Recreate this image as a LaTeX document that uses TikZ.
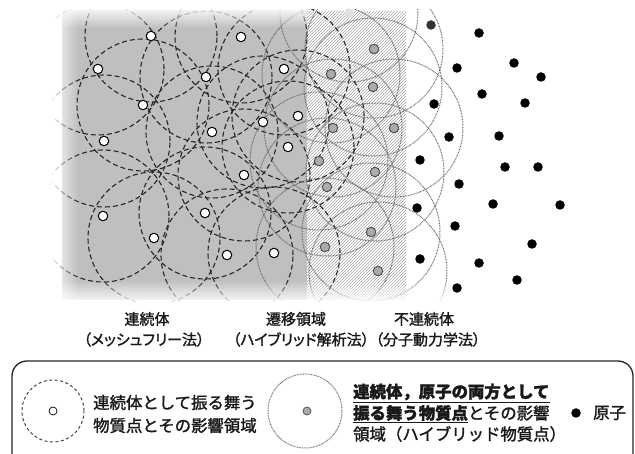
\documentclass[tikz,border=0pt]{standalone}
\usepackage{fontspec}
\setmainfont{Noto Sans CJK JP}
\newfontfamily\jpthick{Noto Sans CJK JP}[FakeBold=1.6]
\newfontfamily\jplab{Noto Sans CJK JP}[FakeBold=1.6, RawFeature=+palt]
\usetikzlibrary{fadings}
\tikzfading[name=fadeL, left color=transparent!0, right color=transparent!100]
\tikzfading[name=fadeT, top color=transparent!0, bottom color=transparent!100]
\tikzfading[name=fadeB, top color=transparent!100, bottom color=transparent!0]
\tikzset{
  wp/.style={circle, draw=black, fill=white, line width=1pt, inner sep=0pt, minimum size=9.5pt},
  hp/.style={circle, draw=black!70, fill=black!33, line width=0.9pt, inner sep=0pt, minimum size=9.5pt},
  ap/.style={circle, fill=black, inner sep=0pt, minimum size=9.5pt},
  dc/.style={draw=black!85, dash pattern=on 5pt off 3pt, line width=1.1pt},
  oc/.style={draw=black!60, dash pattern=on 0.8pt off 0.8pt, line width=1pt},
  hatch/.style={draw=black!35, line width=0.7pt},
  lab/.style={font=\jplab\fontsize{15}{16}\selectfont, text=black!90, inner sep=0pt},
  leg/.style={font=\jpthick\fontsize{16.4}{18}\selectfont, text=black!90, anchor=west, inner sep=0pt},
}
\begin{document}
\begin{tikzpicture}[x=1pt,y=-1pt]
\useasboundingbox (0,0) rectangle (635,454);
% regions
\fill[black!25] (62,10) rectangle (307,300);
\begin{scope}
  \clip (307,12) rectangle (406,300);
  \foreach \i in {7,10,...,406} \draw[hatch] (\i,300) -- ++(300,-300);
\end{scope}
% particle positions
\foreach \n/\x/\y in {w1/151/36,w2/241/37,w3/98/69,w4/206/77,w5/284/69,w6/143/105,w7/298/116,w8/263/122,w9/212/132,w10/104/141,w11/288/147,w12/244/175,w13/103/216,w14/205/213,w15/154/238,w16/227/255,w17/274/253}
  \coordinate (\n) at (\x,\y);
\foreach \n/\x/\y in {h0/349/13,h1/374/49,h2/331/74,h3/373/87,h4/333/128,h5/394/128,h6/319/161,h7/375/172,h8/327/187,h9/371/232,h10/325/247,h11/378/271}
  \coordinate (\n) at (\x,\y);
% influence circles
\begin{scope}
  \clip (52,10) rectangle (475,302);
  \foreach \n in {w1,w2,w3,w4,w5,w6,w7,w8,w9,w10,w11,w12,w13,w14,w15,w16,w17}
    \draw[dc] (\n) circle[radius=66pt];
  \foreach \n in {h0,h1,h2,h3,h4,h5,h6,h7,h8,h9,h10,h11}
    \draw[oc] (\n) circle[radius=69pt];
\end{scope}
% soft edges
\fill[white, path fading=fadeL] (50,8) rectangle (78,304);
\fill[white, path fading=fadeT] (50,6) rectangle (307,28);
\fill[white, path fading=fadeB] (50,280) rectangle (480,304);
% particle markers
\foreach \n in {w1,w2,w3,w4,w5,w6,w7,w8,w9,w10,w11,w12,w13,w14,w15,w16,w17}
  \node[wp] (p\n) at (\n) {};
\node[circle, fill=black!12, inner sep=0pt, minimum size=9.5pt] (ph0) at (h0) {};
\foreach \n in {h1,h2,h3,h4,h5,h6,h7,h8,h9,h10,h11}
  \node[hp] (p\n) at (\n) {};
\node[ap, fill=black!80] (a0) at (431,25) {};
\foreach \n/\x/\y in {a1/479/33,a2/457/68,a3/514/63,a4/541/77,a5/482/94,a6/434/104,a7/525/103,a8/449/137,a9/499/136,a10/420/160,a11/505/167,a12/538/167,a13/459/184,a14/417/208,a15/493/204,a16/560/205,a17/455/226,a18/532/244,a19/420/259,a20/479/263,a21/517/280,a22/457/288}
  \node[ap] (\n) at (\x,\y) {};
% region labels
\node[lab] (l1) at (147,319) {連続体};
\node[lab] (l2) at (144,339.5) {（メッシュフリー法）};
\node[lab] (l3) at (296,319) {遷移領域};
\node[lab] (l4) at (301,339.5) {（ハイブリッド解析法）};
\node[lab] (l5) at (424,319) {不連続体};
\node[lab] (l6) at (428,339.5) {（分子動力学法）};
% legend
\draw[line width=1.3pt, draw=black!85, rounded corners=15pt] (12,470) -- (12,361) -- (633,361) -- (633,470);
\coordinate (lc1) at (53,411);
\draw[draw=black!80, dash pattern=on 3pt off 2.5pt, line width=0.9pt] (lc1) circle[radius=31pt];
\node[circle, draw=black, fill=white, line width=0.7pt, inner sep=0pt, minimum size=8pt] (lp1) at (lc1) {};
\node[leg] (t1) at (93,402.5) {連続体として振る舞う};
\node[leg] (t2) at (93,425.5) {物質点とその影響領域};
\coordinate (lc2) at (305,411);
\draw[oc] (lc2) circle[radius=37pt];
\node[circle, draw=black!70, fill=black!33, line width=0.7pt, inner sep=0pt, minimum size=8pt] (lp2) at (307,411) {};
\node[leg] (t3) at (353,393) {\underline{\bfseries 連続体，原子の両方として}};
\node[leg] (t4) at (353,414) {\underline{\bfseries 振る舞う物質点}とその影響};
\node[leg] (t5) at (353,434) {領域（ハイブリッド物質点）};
\node[ap] (lp3) at (576,413) {};
\node[leg] (t6) at (593,413) {原子};
\end{tikzpicture}
\end{document}
